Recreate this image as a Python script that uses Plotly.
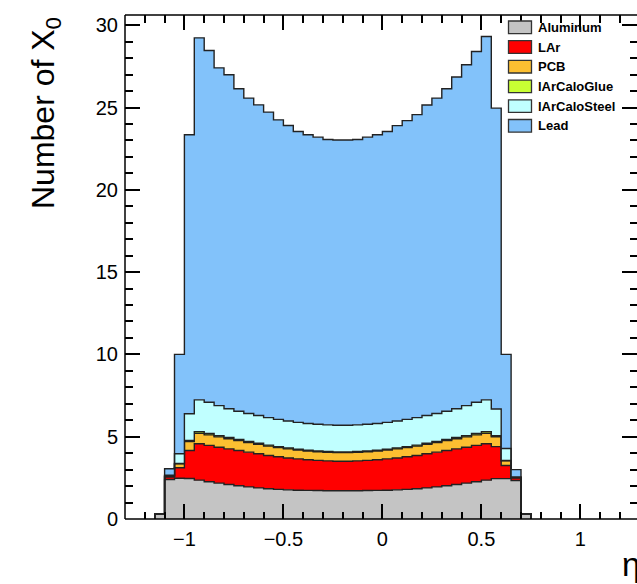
import numpy as np
import plotly.graph_objects as go

# ---------------- data ----------------
bin_lo = -1.15      # left edge of first bin (eta)
bin_w = 0.05        # bin width (eta)

materials = ["Aluminum", "LAr", "PCB", "lArCaloGlue", "lArCaloSteel", "Lead"]

aluminum = [0.32, 2.40, 2.48, 2.46, 2.36, 2.26, 2.18, 2.10, 2.02, 1.95, 1.89, 1.84, 1.80, 1.77, 1.75, 1.74, 1.73, 1.72, 1.72,
            1.72, 1.72, 1.73, 1.74, 1.75, 1.77, 1.80, 1.84, 1.89, 1.95, 2.02, 2.10, 2.18, 2.26, 2.36, 2.45, 2.45, 2.34, 0.32]
lar = [0.0, 0.15, 0.63, 1.70, 2.21, 2.21, 2.18, 2.16, 2.14, 2.11, 2.07, 2.02, 1.98, 1.94, 1.90, 1.86, 1.83, 1.81, 1.79,
       1.79, 1.81, 1.83, 1.86, 1.90, 1.94, 1.98, 2.02, 2.07, 2.11, 2.14, 2.16, 2.18, 2.21, 2.21, 1.95, 0.80, 0.15, 0.0]
pcb = [0.0, 0.05, 0.24, 0.55, 0.64, 0.64, 0.63, 0.62, 0.60, 0.59, 0.58, 0.57, 0.56, 0.55, 0.54, 0.53, 0.53, 0.52, 0.52,
       0.52, 0.52, 0.53, 0.53, 0.54, 0.55, 0.56, 0.57, 0.58, 0.59, 0.60, 0.62, 0.63, 0.64, 0.64, 0.60, 0.28, 0.03, 0.0]
glue = [0.0, 0.01, 0.02, 0.06, 0.10, 0.08, 0.07, 0.07, 0.07, 0.06, 0.06, 0.06, 0.06, 0.05, 0.05, 0.05, 0.05, 0.05, 0.05,
        0.05, 0.05, 0.05, 0.05, 0.05, 0.05, 0.06, 0.06, 0.06, 0.06, 0.07, 0.07, 0.07, 0.08, 0.10, 0.06, 0.02, 0.01, 0.0]
steel = [0.0, 0.05, 0.59, 1.62, 1.93, 1.90, 1.83, 1.75, 1.72, 1.70, 1.69, 1.67, 1.65, 1.64, 1.63, 1.62, 1.62, 1.62, 1.62,
         1.62, 1.62, 1.62, 1.62, 1.63, 1.64, 1.65, 1.67, 1.69, 1.70, 1.72, 1.75, 1.83, 1.90, 1.93, 1.62, 0.73, 0.03, 0.0]
lead = [0.0, 0.39, 6.04, 16.95, 21.99, 21.37, 20.52, 20.29, 19.59, 19.16, 18.87, 18.56, 18.20, 17.96, 17.67, 17.54, 17.44, 17.34, 17.33,
        17.33, 17.34, 17.44, 17.54, 17.67, 17.95, 18.15, 18.41, 18.86, 19.16, 19.59, 20.15, 20.71, 21.31, 22.07, 18.28, 5.72, 0.44, 0.0]

x_tickvals = [-1, -0.5, 0, 0.5, 1]
x_ticktext = ["\u22121", "\u22120.5", "0", "0.5", "1"]
y_tickvals = [0, 5, 10, 15, 20, 25, 30]
y_ticktext = ["0", "5", "10", "15", "20", "25", "30"]

# ---------------- style ----------------
fill_colors = ["#c4c4c4", "#ff0000", "#fcbf31", "#c8ff33", "#c0ffff", "#82c2fa"]
edge_color = "#222222"
FONT = "Liberation Sans, Arial, Helvetica, sans-serif"

W, H = 637, 584
ML, MR, MT, MB = 125, 0, 15, 65
plot_w = W - ML - MR
plot_h = H - MT - MB
px_per_x = 198.0
px_per_y = 16.46
x_range = [-1.3, -1.3 + plot_w / px_per_x]
y_range = [0, plot_h / px_per_y]

layers = [aluminum, lar, pcb, glue, steel, lead]
n = len(aluminum)
edges = bin_lo + bin_w * np.arange(n + 1)

fig = go.Figure()
cum = np.zeros(n)
for i, (name, vals, col) in enumerate(zip(materials, layers, fill_colors)):
    cum = cum + np.array(vals, dtype=float)
    xs = np.concatenate([[edges[0]], edges, [edges[-1]]])
    ys = np.concatenate([[0.0], cum, [cum[-1]], [0.0]])
    fig.add_trace(go.Scatter(
        x=xs, y=ys, mode="lines", name=name,
        line=dict(shape="hv", color=edge_color, width=1.4),
        fill="tozeroy" if i == 0 else "tonexty",
        fillcolor=col, hoverinfo="skip", showlegend=False,
    ))

def pxx(px):
    return (px - ML) / plot_w

def pxy(py):
    return (H - MB - py) / plot_h

shapes = []
annotations = []
# frame (left, bottom, top); right edge lies just outside the window
for x0, y0, x1, y1 in [(0, 0, 0, 1), (0, 0, 1, 0), (0, 1, 1, 1)]:
    shapes.append(dict(type="line", xref="paper", yref="paper", x0=x0, y0=y0, x1=x1, y1=y1,
                       line=dict(color="black", width=1.5), layer="above"))

# legend drawn as boxes + labels
leg_y0 = 27.3
leg_dy = 19.7
for i, (name, col) in enumerate(zip(materials, fill_colors)):
    cy = leg_y0 + i * leg_dy
    shapes.append(dict(type="rect", xref="paper", yref="paper",
                       x0=pxx(508.5), x1=pxx(531.5), y0=pxy(cy + 6.3), y1=pxy(cy - 6.3),
                       fillcolor=col, line=dict(color="#333333", width=1.3), layer="above"))
    annotations.append(dict(xref="paper", yref="paper", x=pxx(535.5), y=pxy(cy), xanchor="left", yanchor="middle",
                            text="<b>%s</b>" % name, showarrow=False,
                            font=dict(family=FONT, size=13, color="black")))

# axis titles
annotations.append(dict(xref="paper", yref="paper", x=pxx(45), y=1.0, xanchor="center", yanchor="top",
                        text="Number of X<sub>0</sub>", textangle=-90, showarrow=False,
                        font=dict(family=FONT, size=32, color="black")))
annotations.append(dict(xref="paper", yref="paper", x=pxx(642), y=pxy(564), xanchor="right", yanchor="middle",
                        text="\u03b7", showarrow=False,
                        font=dict(family=FONT, size=33, color="black")))

fig.update_layout(
    width=W, height=H,
    margin=dict(l=ML, r=MR, t=MT, b=MB, pad=0),
    paper_bgcolor="white", plot_bgcolor="white",
    showlegend=False,
    shapes=shapes, annotations=annotations,
    font=dict(family=FONT, color="black"),
)
fig.update_xaxes(
    range=x_range, showgrid=False, zeroline=False, showline=False,
    tickmode="array", tickvals=x_tickvals, ticktext=x_ticktext,
    ticks="inside", ticklen=15, tickwidth=1.5, tickcolor="black", mirror="ticks",
    tickfont=dict(family=FONT, size=20, color="black"),
    minor=dict(dtick=0.1, tick0=0, ticks="inside", ticklen=7.5, tickwidth=1.5, tickcolor="black"),
    ticklabelstandoff=6,
)
fig.update_yaxes(
    range=y_range, showgrid=False, zeroline=False, showline=False,
    tickmode="array", tickvals=y_tickvals, ticktext=y_ticktext,
    ticks="inside", ticklen=15, tickwidth=1.5, tickcolor="black", mirror="ticks",
    tickfont=dict(family=FONT, size=20, color="black"),
    minor=dict(dtick=1, tick0=0, ticks="inside", ticklen=7.5, tickwidth=1.5, tickcolor="black"),
    ticklabelstandoff=6,
)

fig.write_html("out.html")
